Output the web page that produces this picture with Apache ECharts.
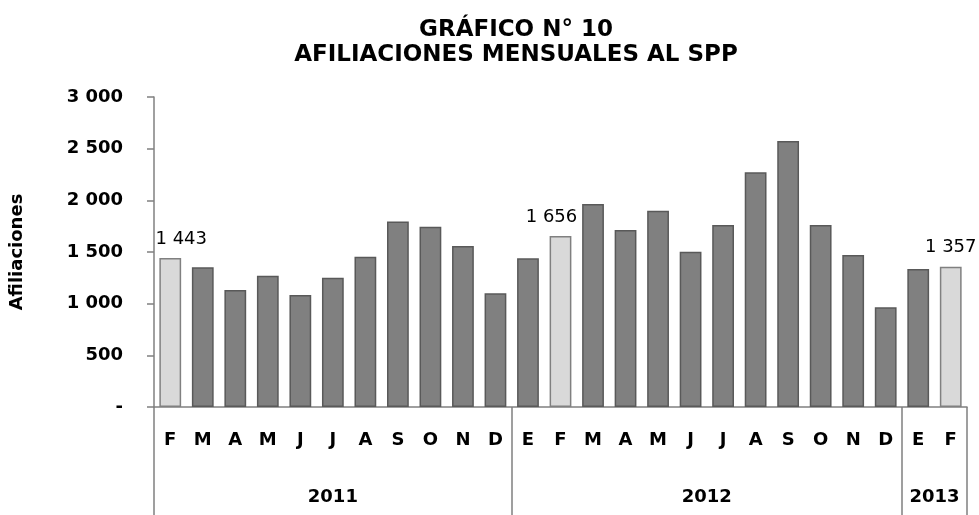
<!DOCTYPE html>
<html>
<head>
<meta charset="utf-8">
<script src="https://cdn.jsdelivr.net/npm/echarts@6/dist/echarts.min.js"></script>
<style>
  html, body { margin: 0; padding: 0; background: #fff; }
  #chart { width: 979px; height: 515px; }
</style>
</head>
<body>
<div id="chart"></div>
<script>
// meses (feb 2011 - feb 2013)
var meses = ['F','M','A','M','J','J','A','S','O','N','D',
             'E','F','M','A','M','J','J','A','S','O','N','D',
             'E','F'];
var afiliaciones = [1443, 1352, 1133, 1271, 1084, 1252, 1455, 1794, 1745, 1558, 1100,
                    1439, 1656, 1965, 1713, 1900, 1503, 1762, 2272, 2575, 1762, 1471, 965,
                    1336, 1357];
// barras destacadas (febrero) con etiqueta
var destacados = [0, 12, 24];
var anios = ['2011', '2012', '2013'];
var posAnios = [5.5, 17, 24];      // centro de cada bloque de años
var cortesAnios = [0, 11, 23, 25]; // separadores

var fuente = 'DejaVu Sans';

var fmtMiles = function (v) {
  if (v === 0) return '-';
  return String(v).replace(/\B(?=(\d{3})+(?!\d))/g, ' ');
};

var labelOffsets = { 0: [11, -5], 12: [-9, -5], 24: [0, -5] };

var datos = afiliaciones.map(function (v, i) {
  var d = destacados.indexOf(i) >= 0;
  var item = {
    value: v,
    itemStyle: d ? { color: '#d9d9d9', borderColor: '#808080' } : { color: '#808080', borderColor: '#595959' }
  };
  if (d) {
    item.label = {
      show: true, position: 'top', offset: labelOffsets[i],
      formatter: function (p) { return fmtMiles(p.value); },
      fontSize: 18, color: '#000', fontFamily: fuente
    };
  }
  return item;
});

var myChart = echarts.init(document.getElementById('chart'));

var option = {
  animation: false,
  title: {
    text: 'GRÁFICO N° 10\nAFILIACIONES MENSUALES AL SPP',
    left: 511, top: 13, textAlign: 'center',
    textStyle: { fontSize: 23, fontWeight: 'bold', color: '#000', fontFamily: fuente, lineHeight: 25 }
  },
  grid: { left: 154, right: 12, top: 97, bottom: 108 },
  xAxis: [{
    type: 'category',
    data: meses,
    axisLine: { lineStyle: { color: '#808080', width: 1.5 } },
    axisTick: { length: 56, lineStyle: { color: '#808080', width: 1.5 } },
    axisLabel: { interval: 0, margin: 24, fontSize: 18, fontWeight: 'bold', color: '#000', fontFamily: fuente }
  }, {
    type: 'value',
    min: 0, max: 25,
    position: 'bottom',
    splitLine: { show: false },
    axisLine: { show: false },
    axisTick: { show: true, customValues: cortesAnios, length: 108, lineStyle: { color: '#808080', width: 1.5 } },
    axisLabel: {
      customValues: posAnios, margin: 81, fontSize: 18, fontWeight: 'bold', color: '#000', fontFamily: fuente,
      formatter: function (v) { return anios[posAnios.indexOf(v)]; }
    }
  }],
  yAxis: {
    type: 'value',
    min: 0, max: 3000, interval: 500,
    name: 'Afiliaciones',
    nameLocation: 'middle',
    nameRotate: 90,
    nameGap: 128,
    nameTextStyle: { fontSize: 18, fontWeight: 'bold', color: '#000', fontFamily: fuente },
    splitLine: { show: false },
    axisLine: { show: true, lineStyle: { color: '#808080', width: 1.5 } },
    axisTick: { show: true, length: 7, lineStyle: { color: '#808080', width: 1.5 } },
    axisLabel: { margin: 31, fontSize: 18, fontWeight: 'bold', color: '#000', fontFamily: fuente, formatter: fmtMiles }
  },
  series: [{
    name: 'Afiliaciones',
    type: 'bar',
    xAxisIndex: 0,
    data: datos,
    barCategoryGap: '33%',
    itemStyle: { borderWidth: 1.5 }
  }]
};

myChart.setOption(option);
</script>
</body>
</html>
